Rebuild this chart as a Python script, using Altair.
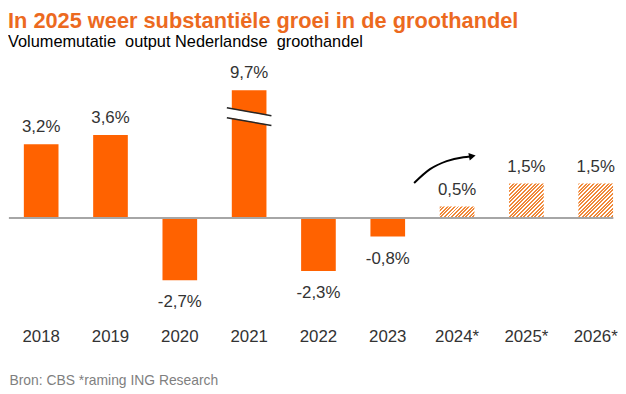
import math
import altair as alt
import pandas as pd

# ---- data ----
years = ["2018", "2019", "2020", "2021", "2022", "2023", "2024*", "2025*", "2026*"]
values = [3.2, 3.6, -2.7, 9.7, -2.3, -0.8, 0.5, 1.5, 1.5]
forecast = [False, False, False, False, False, False, True, True, True]
labels = [f"{v:.1f}%".replace(".", ",") for v in values]

axis_cap = 5.55      # 2021 bar is drawn broken at this height
break_at = 4.4       # where the break marks sit

# curved arrow annotation (in year-index units / percent units)
arrow_x = [5.38, 5.61, 5.85, 6.09, 6.19]
arrow_y = [1.52, 2.12, 2.47, 2.64, 2.675]
head_x = [6.22]
head_y = [2.685]

TITLE = "In 2025 weer substantiële groei in de groothandel"
SUBTITLE = "Volumemutatie\u00a0 output Nederlandse\u00a0 groothandel"
SOURCE = "Bron: CBS *raming ING Research"

# ---- style / layout ----
FONT = "Liberation Sans"
ORANGE = "#FF6200"
TITLE_ORANGE = "#EC6A1F"
HATCH = "#F0893A"
W, H = 610, 242
YMIN, YMAX = -3.6, 6.8
PPU = H / (YMAX - YMIN)
STEP = 70
BANDW = 35
OUTER = 15
p_outer = (W / STEP - 9 + 0.5) / 2

QMIN = -(OUTER + BANDW / 2) / STEP
QMAX = (W - OUTER - BANDW / 2) / STEP


def hatch(h, w=BANDW, period=2.6, frac=0.55):
    r = h / w
    k = (1 + r) / (1 + r * r)
    n = max(1, round((w + h) / math.sqrt(2) / period))
    stops = []
    for i in range(n):
        a, b, c = i / n, (i + frac) / n, (i + 1) / n
        stops += [
            {"offset": round(a, 4), "color": HATCH},
            {"offset": round(b, 4), "color": HATCH},
            {"offset": round(b, 4), "color": "#FFFFFF"},
            {"offset": round(c, 4), "color": "#FFFFFF"},
        ]
    return {"gradient": "linear", "x1": 0, "y1": 0, "x2": k, "y2": k * r, "stops": stops}


df = pd.DataFrame({"year": years, "value": values, "forecast": forecast, "label": labels})

xscale = alt.Scale(domain=years, paddingInner=0.5, paddingOuter=p_outer, align=1)
yscale = alt.Scale(domain=[YMIN, YMAX], nice=False, zero=False)
xaxis = alt.Axis(
    title=SOURCE, titleAnchor="start", titleAlign="left", titleFontWeight="normal",
    titleFontSize=14, titleColor="#7F7F7F", titleFont=FONT, titlePadding=30,
    labelFontSize=17, labelColor="#333333", labelFont=FONT, labelPadding=27.5,
    labelAngle=0, domain=False, ticks=False, tickSize=0, grid=False,
)
x_enc = alt.X("year:N", scale=xscale, axis=xaxis, sort=None)

base = alt.Chart(df).transform_calculate(shown=f"min(datum.value, {axis_cap})")
y_enc = alt.Y("shown:Q", scale=yscale, axis=None)

solid = base.transform_filter("!datum.forecast").mark_bar(color=ORANGE).encode(x=x_enc, y=y_enc)

h2024 = values[years.index("2024*")] * PPU
h2025 = values[years.index("2025*")] * PPU
hatch_a = base.transform_filter("datum.year == '2024*'").mark_bar(fill=hatch(h2024)).encode(x=x_enc, y=y_enc)
hatch_b = base.transform_filter("datum.year == '2025*' || datum.year == '2026*'").mark_bar(
    fill=hatch(h2025)).encode(x=x_enc, y=y_enc)

zero = alt.Chart(df).mark_rule(color="#A6A6A6", strokeWidth=2).encode(
    y=alt.Y(datum=0, scale=yscale, axis=None))

pos_lab = base.transform_filter("datum.value >= 0").mark_text(
    dy=-12, baseline="alphabetic", fontSize=17, font=FONT, color="#333333").encode(
    x=x_enc, y=y_enc, text="label:N")
neg_lab = base.transform_filter("datum.value < 0").mark_text(
    dy=27.5, baseline="alphabetic", fontSize=17, font=FONT, color="#333333").encode(
    x=x_enc, y=y_enc, text="label:N")

brk_base = base.transform_filter("datum.value > datum.shown").transform_calculate(brk=f"{break_at}")
brk_white = brk_base.mark_rule(color="white", strokeWidth=9, strokeCap="butt",
                               xOffset=-22.5, x2Offset=22.5, yOffset=-4, y2Offset=4).encode(
    x=x_enc, x2=alt.X2("year"), y=alt.Y("brk:Q", scale=yscale, axis=None), y2="brk:Q")
brk_top = brk_base.mark_rule(color="#262626", strokeWidth=1.5,
                             xOffset=-22.5, x2Offset=22.5, yOffset=-9, y2Offset=-1).encode(
    x=x_enc, x2=alt.X2("year"), y=alt.Y("brk:Q", scale=yscale, axis=None), y2="brk:Q")
brk_bot = brk_base.mark_rule(color="#262626", strokeWidth=1.5,
                             xOffset=-22.5, x2Offset=22.5, yOffset=1, y2Offset=9).encode(
    x=x_enc, x2=alt.X2("year"), y=alt.Y("brk:Q", scale=yscale, axis=None), y2="brk:Q")

inner = alt.layer(solid, hatch_a, hatch_b, zero, pos_lab, neg_lab, brk_white, brk_top, brk_bot)

adf = pd.DataFrame({"q": arrow_x, "v": arrow_y, "i": list(range(len(arrow_x)))})
hdf = pd.DataFrame({"q": head_x, "v": head_y})
qscale = alt.Scale(domain=[QMIN, QMAX], nice=False, zero=False)
arrow = alt.Chart(adf).mark_line(color="black", strokeWidth=2, interpolate="monotone").encode(
    x=alt.X("q:Q", scale=qscale, axis=None), y=alt.Y("v:Q", scale=yscale, axis=None), order="i:O")
head = alt.Chart(hdf).mark_point(shape="triangle-right", filled=True, size=60, color="black",
                                 opacity=1, angle=350).encode(
    x=alt.X("q:Q", scale=qscale, axis=None), y=alt.Y("v:Q", scale=yscale, axis=None))

chart = alt.layer(inner, arrow, head).resolve_scale(x="independent").properties(
    width=W, height=H, padding=0,
    title=alt.TitleParams(
        text=TITLE, subtitle=SUBTITLE, anchor="start", frame="group", dx=-1,
        fontSize=22, fontWeight="bold", color=TITLE_ORANGE, font=FONT,
        subtitleFont=FONT, subtitleFontSize=16.5, subtitleColor="#000000",
        subtitlePadding=1, offset=10,
    ),
).configure_view(stroke=None)

chart.save("out.html", embed_options={"renderer": "svg", "actions": False})
